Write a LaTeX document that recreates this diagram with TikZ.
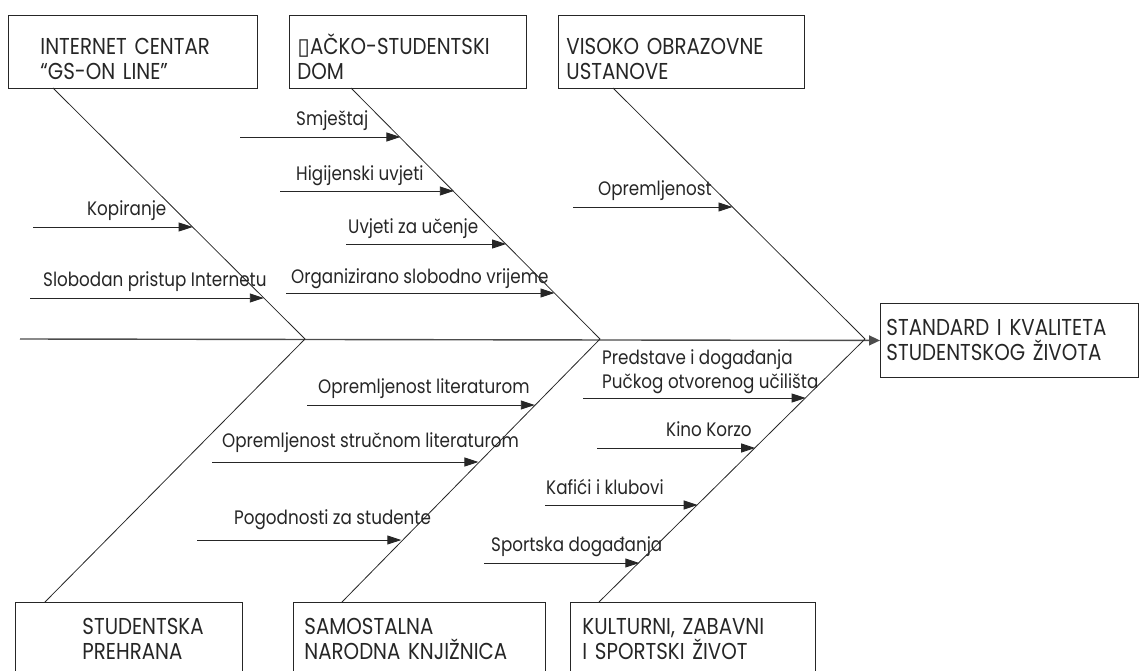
\documentclass[tikz,border=0pt]{standalone}
\usepackage{fontspec}
\setmainfont[FakeStretch=0.86]{Poppins}
\newfontfamily\symfont{DejaVu Sans}
\usetikzlibrary{arrows.meta}
\tikzset{
  box/.style={draw=black!85, line width=0.9pt, anchor=north west, align=left, inner ysep=0pt,
    font=\fontsize{23}{25}\selectfont, text=black!85},
  lbl/.style={anchor=base west, inner sep=0pt, font=\fontsize{19.5}{25}\selectfont, text=black!85},
  bone/.style={draw=black!85, line width=0.8pt},
  spine/.style={draw=black!70, line width=1.4pt, -{Triangle[length=11pt,width=10pt]}},
  cause/.style={draw=black!85, line width=0.9pt, -{Triangle[length=14pt,width=9pt]}}
}
\newcommand{\topstrut}{\rule{0pt}{30pt}}
\begin{document}
\begin{tikzpicture}[x=1pt,y=-1pt]
\useasboundingbox (0,0) rectangle (1142,671);
\clip (0,0) rectangle (1142,671);
% category boxes (top)
\node[box, minimum width=249pt, minimum height=73pt, inner xsep=32pt, text width=185pt] (c1) at (8,15) {\topstrut INTERNET CENTAR\\``GS-ON LINE''};
\node[box, minimum width=237pt, minimum height=73pt, inner xsep=8pt, text width=221pt] (c2) at (289,15) {\topstrut{\symfont\char"25AF}AČKO-STUDENTSKI\\DOM};
\node[box, minimum width=246pt, minimum height=73pt, inner xsep=8pt, text width=230pt] (c3) at (558,15) {\topstrut VISOKO OBRAZOVNE\\USTANOVE};
% effect box
\node[box, minimum width=258pt, minimum height=74pt, inner xsep=6pt, text width=246pt] (eff) at (880,303) {STANDARD I KVALITETA\\STUDENTSKOG ŽIVOTA};
% category boxes (bottom)
\node[box, minimum width=227pt, inner xsep=0pt, text width=227pt, text depth=60pt] (d1) at (15,602) {\rule{0pt}{32pt}\hspace*{67pt}STUDENTSKA\\\hspace*{67pt}PREHRANA};
\node[box, minimum width=252pt, inner xsep=11pt, text width=230pt, text depth=60pt] (d2) at (293,602) {\rule{0pt}{32pt}SAMOSTALNA\\NARODNA KNJIŽNICA};
\node[box, minimum width=245pt, inner xsep=12pt, text width=221pt, text depth=60pt] (d3) at (570,602) {\rule{0pt}{32pt}KULTURNI, ZABAVNI\\I SPORTSKI ŽIVOT};
% spine
\coordinate (s0) at (20,339);
\coordinate (J1) at (305,339);
\coordinate (J2) at (600,339);
\coordinate (J3) at (865,339);
\draw[spine] (s0) -- (eff.west);
% bones
\coordinate (t1) at (53,88);
\coordinate (t2) at (351,88);
\coordinate (t3) at (613,88);
\coordinate (b1) at (45,602);
\coordinate (b2) at (342,602);
\coordinate (b3) at (599,602);
\draw[bone] (t1) -- (J1);
\draw[bone] (t2) -- (J2);
\draw[bone] (t3) -- (J3);
\draw[bone] (b1) -- (J1);
\draw[bone] (b2) -- (J2);
\draw[bone] (b3) -- (J3);
% causes: internet centar
\coordinate (k1s) at (33,227);  \coordinate (k1e) at (192.6,227);
\coordinate (k2s) at (30,298);  \coordinate (k2e) at (263.8,298);
\draw[cause] (k1s) -- (k1e);
\draw[cause] (k2s) -- (k2e);
\node[lbl] (l1) at (87,215) {Kopiranje};
\node[lbl] (l2) at (43,286) {Slobodan pristup Internetu};
% dom
\coordinate (m1s) at (240,137); \coordinate (m1e) at (400.4,137);
\coordinate (m2s) at (280,191); \coordinate (m2e) at (453.8,191);
\coordinate (m3s) at (346,244); \coordinate (m3e) at (506.1,244);
\coordinate (m4s) at (286,293); \coordinate (m4e) at (554.5,293);
\draw[cause] (m1s) -- (m1e);
\draw[cause] (m2s) -- (m2e);
\draw[cause] (m3s) -- (m3e);
\draw[cause] (m4s) -- (m4e);
\node[lbl] (l3) at (296,126) {Smještaj};
\node[lbl] (l4) at (296,180) {Higijenski uvjeti};
\node[lbl] (l5) at (348,233) {Uvjeti za učenje};
\node[lbl] (l6) at (291,283) {Organizirano slobodno vrijeme};
% visoko
\coordinate (v1s) at (573,207); \coordinate (v1e) at (732.5,207);
\draw[cause] (v1s) -- (v1e);
\node[lbl] (l7) at (598,195) {Opremljenost};
% knjiznica
\coordinate (n1s) at (307,405); \coordinate (n1e) at (534.8,405);
\coordinate (n2s) at (212,462); \coordinate (n2e) at (478.4,462);
\coordinate (n3s) at (197,540); \coordinate (n3e) at (401.3,540);
\draw[cause] (n1s) -- (n1e);
\draw[cause] (n2s) -- (n2e);
\draw[cause] (n3s) -- (n3e);
\node[lbl] (l8) at (318,393) {Opremljenost literaturom};
\node[lbl] (l9) at (222,447) {Opremljenost stručnom literaturom};
\node[lbl] (l10) at (234,524) {Pogodnosti za studente};
% kultura
\coordinate (p1s) at (583,398); \coordinate (p1e) at (805.6,398);
\coordinate (p2s) at (597,448); \coordinate (p2e) at (755.2,448);
\coordinate (p3s) at (545,505); \coordinate (p3e) at (697.7,505);
\coordinate (p4s) at (484,563); \coordinate (p4e) at (639.3,563);
\draw[cause] (p1s) -- (p1e);
\draw[cause] (p2s) -- (p2e);
\draw[cause] (p3s) -- (p3e);
\draw[cause] (p4s) -- (p4e);
\node[lbl] (l11) at (602,364) {Predstave i događanja};
\node[lbl] (l12) at (602,388) {Pučkog otvorenog učilišta};
\node[lbl] (l13) at (666,436) {Kino Korzo};
\node[lbl] (l14) at (546,494) {Kafići i klubovi};
\node[lbl] (l15) at (491,551) {Sportska događanja};
\end{tikzpicture}
\end{document}
